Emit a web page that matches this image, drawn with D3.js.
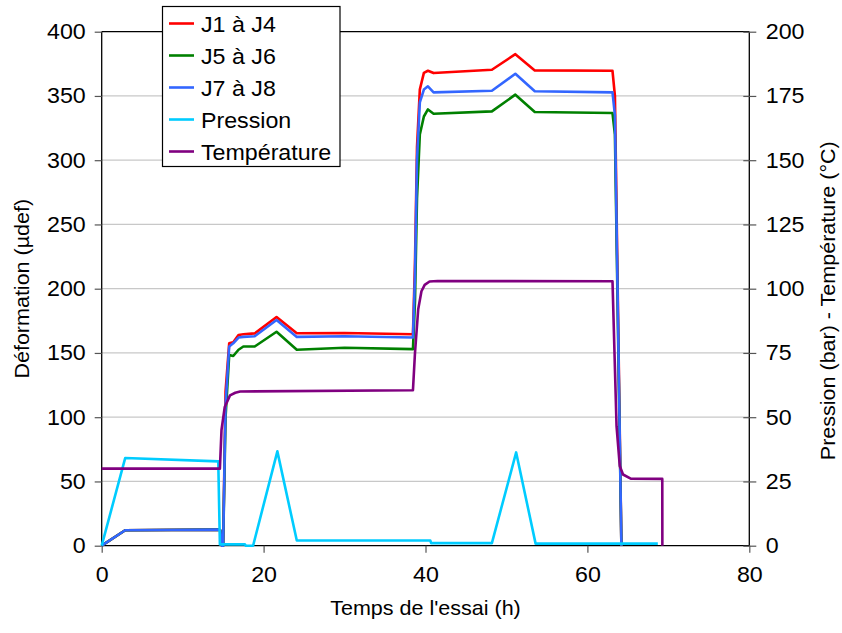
<!DOCTYPE html>
<html><head><meta charset="utf-8">
<script src="https://cdn.jsdelivr.net/npm/d3@7"></script>
<style>body{margin:0;background:#fff}svg{display:block}text{font-family:"Liberation Sans",Arial,sans-serif;fill:#000}</style>
</head><body><svg id="c" width="842" height="633"></svg>
<script>
// ---- data ----
const xTicks = [0, 20, 40, 60, 80];
const yLeftTicks = [0, 50, 100, 150, 200, 250, 300, 350, 400];
const yRightTicks = [0, 25, 50, 75, 100, 125, 150, 175, 200];
const seriesNames = ["J1 à J4", "J5 à J6", "J7 à J8", "Pression", "Température"];
const seriesColors = ["#ff0000", "#008000", "#3366ff", "#00ccff", "#800080"];

// strain series (µdef), shared times (h)
const tStrain = [0, 2.9, 14.4, 14.65, 14.85, 15.0, 15.3, 15.75, 16.25, 16.9, 17.5, 18.9, 21.6, 24.1, 30, 38.45, 38.7, 38.95, 39.3, 39.8, 40.3, 41.0, 48.2, 51.1, 53.5, 63.1, 63.4, 64.2];
const j1j4 = [0, 12, 12.5, 12, 0, 0, 120, 157.5, 158.4, 164, 164.5, 165.2, 178, 165.3, 165.5, 164.5, 220, 310, 355, 368, 369.6, 367.8, 370.4, 382.5, 369.9, 369.6, 350, 0];
const j5j6 = [0, 12, 12.5, 12, 0, 0, 100, 148.5, 147.6, 152.5, 155, 155, 166.5, 152.5, 154, 153, 190, 270, 320, 334, 339.5, 336.2, 338, 351, 337.5, 336.7, 320, 0];
const j7j8 = [0, 12, 12.5, 12, 0, 0, 110, 155, 157.5, 162, 162.5, 163, 175.6, 162.5, 163, 162, 210, 300, 345, 355, 357.5, 352.8, 354, 367.3, 353.6, 352.8, 335, 0];

// pressure (bar)
const tPress = [0, 2.9, 14.4, 14.6, 17.7, 17.8, 18.7, 21.7, 24.1, 40.6, 40.7, 48.2, 51.2, 53.6, 68.7];
const press = [0, 34.1, 32.8, 0.5, 0.5, 0, 0, 36.7, 2.0, 2.0, 1.0, 1.0, 36.3, 0.8, 0.8];

// temperature (°C)
const tTemp = [0, 14.6, 14.8, 15.2, 15.85, 16.5, 17.1, 38.45, 38.7, 39.1, 39.5, 39.9, 40.5, 41.5, 63.1, 63.6, 64.0, 64.4, 65.35, 69.25, 69.26];
const temp = [30, 30, 45, 54, 58.5, 59.5, 60, 60.5, 75, 92, 99, 101.5, 102.8, 103, 102.9, 46.5, 31, 27.7, 26.1, 26, 0];

// ---- chart ----
const svg = d3.select("#c");
const L = 101.7, R = 749.3, T = 31.7, B = 545.7;
const x = d3.scaleLinear().domain([0, 80]).range([L, R]);
const yL = d3.scaleLinear().domain([0, 400]).range([B, T]);
const yR = d3.scaleLinear().domain([0, 200]).range([B, T]);
const FS = 20.5, FS2 = 21.5, SX = 1.08, SXT = 1.05;

// gridlines
svg.append("g").selectAll("line").data(yLeftTicks.filter(d => d > 0 && d < 400)).join("line")
  .attr("x1", L).attr("x2", R).attr("y1", d => yL(d)).attr("y2", d => yL(d))
  .attr("stroke", "#c8c8c8").attr("stroke-width", 1.2);

// frame top
svg.append("line").attr("x1", L).attr("x2", R).attr("y1", T).attr("y2", T).attr("stroke", "#000").attr("stroke-width", 1.3);

// axes
const ax = svg.append("g").attr("transform", `translate(0,${B})`)
  .call(d3.axisBottom(x).tickValues(xTicks).tickSize(7).tickPadding(14).tickFormat(d3.format("d")));
const ayL = svg.append("g").attr("transform", `translate(${L},0)`)
  .call(d3.axisLeft(yL).tickValues(yLeftTicks).tickSize(7).tickPadding(9).tickFormat(d3.format("d")));
const ayR = svg.append("g").attr("transform", `translate(${R},0)`)
  .call(d3.axisRight(yR).tickValues(yRightTicks).tickSize(7).tickPadding(9.5).tickFormat(d3.format("d")));
ayR.selectAll(".tick line").attr("x1", -6);
[ax, ayL, ayR].forEach(g => {
  g.select(".domain").attr("stroke", "#000").attr("stroke-width", 1.3);
  g.selectAll(".tick line").attr("stroke", "#555").attr("stroke-width", 1.2);
  g.selectAll(".tick text").attr("font-size", FS2).attr("font-family", "Liberation Sans, Arial, sans-serif").attr("fill", "#000");
});
// slight horizontal stretch of tick labels, anchored at their own anchor point
[ayL, ayR].forEach(g => g.selectAll(".tick text").each(function () {
  const t = d3.select(this), xx = +t.attr("x");
  t.attr("x", 0).attr("transform", `translate(${xx},0) scale(${SX},1)`);
}));
ax.selectAll(".tick text").attr("transform", `scale(${SX},1)`);
ax.select(".domain").attr("d", `M${L},0H${R}`);
ayL.select(".domain").attr("d", `M0,${B}V${T}`);
ayR.select(".domain").attr("d", `M0,${B}V${T}`);

// lines
const lineL = (ts) => d3.line().x((d, i) => x(ts[i])).y(d => yL(d));
const lineR = (ts) => d3.line().x((d, i) => x(ts[i])).y(d => yR(d));
const plot = svg.append("g").attr("fill", "none").attr("stroke-width", 2.6).attr("stroke-linejoin", "round");
plot.append("path").attr("d", lineL(tStrain)(j1j4)).attr("stroke", seriesColors[0]);
plot.append("path").attr("d", lineL(tStrain)(j5j6)).attr("stroke", seriesColors[1]);
plot.append("path").attr("d", lineL(tStrain)(j7j8)).attr("stroke", seriesColors[2]);
plot.append("path").attr("d", lineR(tPress)(press)).attr("stroke", seriesColors[3]);
plot.append("path").attr("d", lineR(tTemp)(temp)).attr("stroke", seriesColors[4]);

// axis titles
svg.append("text").attr("transform", `translate(${(L + R) / 2},615) scale(${SXT},1)`).attr("text-anchor", "middle").attr("font-size", FS).text("Temps de l'essai (h)");
svg.append("text").attr("transform", `translate(29,${(T + B) / 2}) rotate(-90) scale(${SXT},1)`).attr("text-anchor", "middle").attr("font-size", FS).text("Déformation (µdef)");
svg.append("text").attr("transform", `translate(835,${(T + B) / 2 + 12}) rotate(-90) scale(${SXT},1)`).attr("text-anchor", "middle").attr("font-size", FS).text("Pression (bar) - Température (°C)");

// legend
const lg = svg.append("g");
lg.append("rect").attr("x", 162.5).attr("y", 6.5).attr("width", 177.5).attr("height", 160).attr("fill", "#fff").attr("stroke", "#000").attr("stroke-width", 1.2);
const rowY = d3.scaleLinear().domain([0, 4]).range([23.5, 151.5]);
seriesNames.forEach((n, i) => {
  lg.append("line").attr("x1", 169).attr("x2", 194).attr("y1", rowY(i)).attr("y2", rowY(i)).attr("stroke", seriesColors[i]).attr("stroke-width", 2.6);
  lg.append("text").attr("transform", `translate(201,${rowY(i) + 8}) scale(${SX},1)`).attr("font-size", FS2).text(n);
});
</script></body></html>
